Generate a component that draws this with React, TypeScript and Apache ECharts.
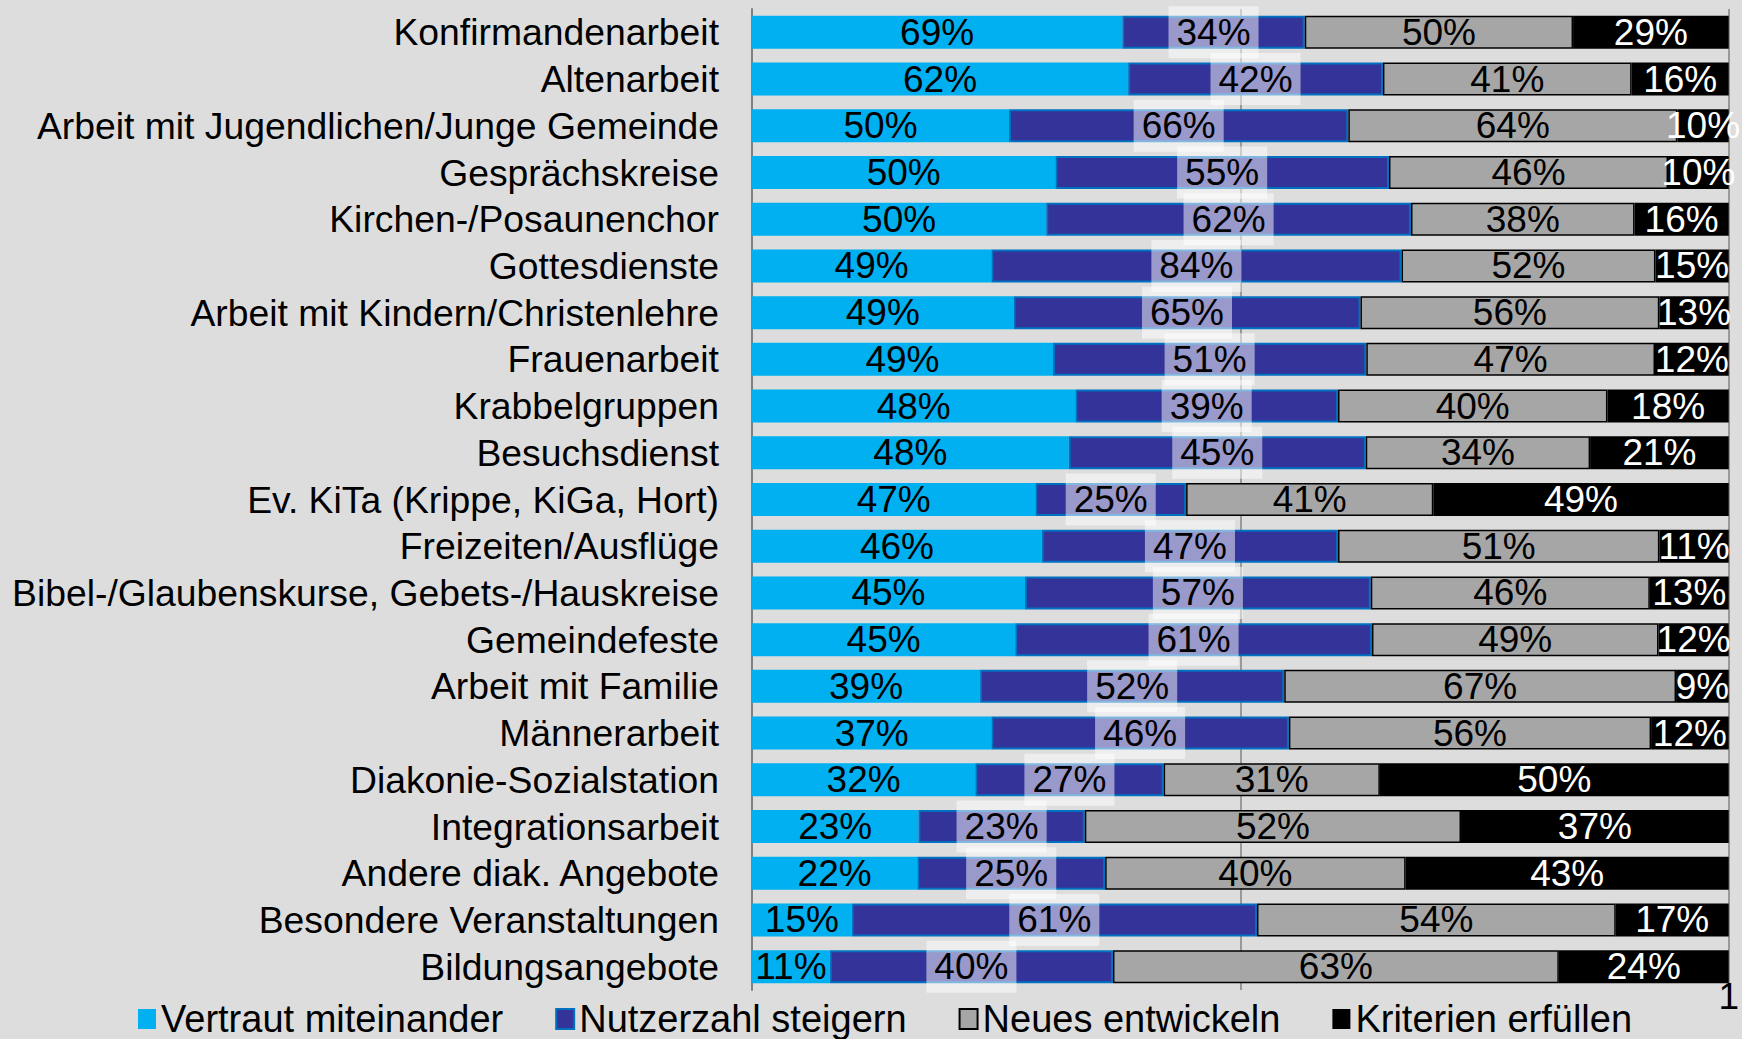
import React, { useEffect, useRef } from "react";
import * as echarts from "echarts";

const categories = [
  "Konfirmandenarbeit",
  "Altenarbeit",
  "Arbeit mit Jugendlichen/Junge Gemeinde",
  "Gesprächskreise",
  "Kirchen-/Posaunenchor",
  "Gottesdienste",
  "Arbeit mit Kindern/Christenlehre",
  "Frauenarbeit",
  "Krabbelgruppen",
  "Besuchsdienst",
  "Ev. KiTa (Krippe, KiGa, Hort)",
  "Freizeiten/Ausflüge",
  "Bibel-/Glaubenskurse, Gebets-/Hauskreise",
  "Gemeindefeste",
  "Arbeit mit Familie",
  "Männerarbeit",
  "Diakonie-Sozialstation",
  "Integrationsarbeit",
  "Andere diak. Angebote",
  "Besondere Veranstaltungen",
  "Bildungsangebote",
];

const vertraut = [69, 62, 50, 50, 50, 49, 49, 49, 48, 48, 47, 46, 45, 45, 39, 37, 32, 23, 22, 15, 11];
const nutzerzahl = [34, 42, 66, 55, 62, 84, 65, 51, 39, 45, 25, 47, 57, 61, 52, 46, 27, 23, 25, 61, 40];
const neues = [50, 41, 64, 46, 38, 52, 56, 47, 40, 34, 41, 51, 46, 49, 67, 56, 31, 52, 40, 54, 63];
const kriterien = [29, 16, 10, 10, 16, 15, 13, 12, 18, 21, 49, 11, 13, 12, 9, 12, 50, 37, 43, 17, 24];

const seriesNames = ["Vertraut miteinander", "Nutzerzahl steigern", "Neues entwickeln", "Kriterien erfüllen"];
const xTickLabels = ["1"];

const FONT = "'Liberation Sans', Arial, sans-serif";

export default function App() {
  const ref = useRef<HTMLDivElement>(null);

  useEffect(() => {
    document.body.style.margin = "0";
    const chart = echarts.init(ref.current!, null, { renderer: "svg" });
    const all = [vertraut, nutzerzahl, neues, kriterien];
    const totals = categories.map((_, i) => all.reduce((s, a) => s + a[i], 0));
    const norm = (arr: number[]) => arr.map((v, i) => ({ value: v / totals[i], raw: v }));

    const styles = [
      { color: "#00b0f0", borderColor: "#00b0f0", borderWidth: 0, label: "#000" },
      { color: "#333399", borderColor: "#0070c0", borderWidth: 2, label: "#000" },
      { color: "#a6a6a6", borderColor: "#000000", borderWidth: 1.5, label: "#000" },
      { color: "#000000", borderColor: "#000000", borderWidth: 0, label: "#fff" },
    ];

    const series = all.map((arr, k) => ({
      name: seriesNames[k],
      type: "bar",
      stack: "total",
      barWidth: 33,
      data: norm(arr),
      itemStyle: {
        color: styles[k].color,
        borderColor: styles[k].borderColor,
        borderWidth: styles[k].borderWidth,
      },
      label: {
        show: true,
        position: "inside",
        fontSize: 37,
        fontFamily: FONT,
        color: styles[k].label,
        formatter: (p: any) => p.data.raw + "%",
        ...(k === 1
          ? {
              backgroundColor: "rgba(255,255,255,0.5)",
              padding: [4, 8],
              lineHeight: 44,
            }
          : {}),
      },
    }));

    chart.setOption({
      animation: false,
      backgroundColor: "#dddddd",
      grid: { left: 752, right: 8, top: 9, bottom: 49, containLabel: false },
      legend: {
        left: 133,
        top: 995,
        icon: "rect",
        itemWidth: 18,
        itemHeight: 20,
        itemGap: 52,
        textStyle: { fontSize: 38, fontFamily: FONT, color: "#000" },
        data: seriesNames,
      },
      xAxis: {
        type: "value",
        min: 0,
        max: 1,
        interval: 0.5,
        axisLine: { show: false },
        axisTick: { show: false },
        splitLine: { show: true, lineStyle: { color: "#999999", width: 2 } },
        axisLabel: {
          fontSize: 37,
          fontFamily: FONT,
          color: "#000",
          margin: -12,
          formatter: (v: number) => (v === 1 ? xTickLabels[0] : ""),
        },
      },
      yAxis: {
        type: "category",
        inverse: true,
        data: categories,
        axisLine: { show: true, lineStyle: { color: "#808080", width: 2 } },
        axisTick: { show: false },
        axisLabel: { fontSize: 37.3, fontFamily: FONT, color: "#000", margin: 33, interval: 0 },
      },
      series,
    });
    return () => chart.dispose();
  }, []);

  return <div ref={ref} style={{ width: 1742, height: 1039 }} />;
}
